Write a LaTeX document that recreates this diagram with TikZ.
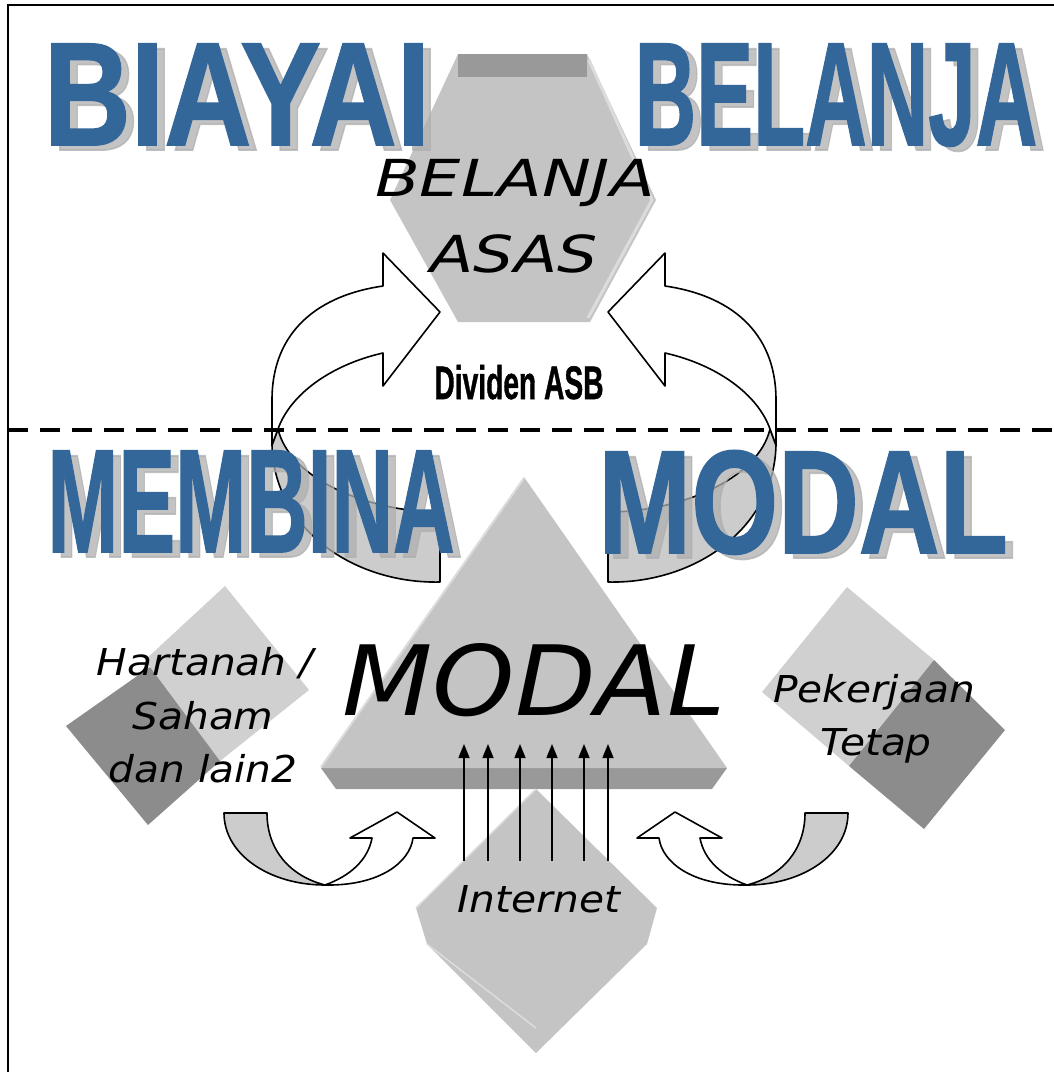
\documentclass[tikz,border=0pt]{standalone}
\usepackage{fontspec}
\setmainfont{DejaVu Sans}
\newfontfamily\heavyfont[FakeBold=1.2]{Liberation Sans}
\usetikzlibrary{arrows.meta}
\definecolor{titleblue}{RGB}{51,102,153}
\definecolor{shadowgray}{RGB}{175,175,175}
\definecolor{facegray}{RGB}{196,196,196}
\definecolor{edgegray}{RGB}{153,153,153}
\definecolor{lightface}{RGB}{208,208,208}
\definecolor{darkface}{RGB}{140,140,140}
\definecolor{backgray}{RGB}{204,204,204}
\definecolor{bevel}{RGB}{220,220,220}
\tikzset{
  titleword/.style={inner sep=0pt,anchor=base,text=titleblue,font=\heavyfont\bfseries\fontsize{147}{147}\selectfont},
  titleshadow/.style={titleword,text=shadowgray,opacity=0.75},
  itext/.style={inner sep=0pt,anchor=base,font=\itshape\fontsize{37}{37}\selectfont},
  boxtext/.style={itext,xscale=1.1},
  hextext/.style={itext,font=\itshape\fontsize{51}{51}\selectfont},
  band/.style={draw=black,line width=1.6pt,line join=round},
  feed/.style={line width=1.5pt,-{Triangle[length=14pt,width=11pt]}}
}
\newcommand{\bigword}[5]{%
  \node[titleshadow,xscale=#4] (#1shadow) at (#2+8,#3+5) {#5};
  \node[titleword,xscale=#4] (#1) at (#2,#3) {#5};}
\begin{document}
\begin{tikzpicture}[x=1pt,y=-1pt]
\useasboundingbox (0,0) rectangle (1054,1072);
\draw[line width=2pt] (8,1072) -- (8,5) -- (1054,5);

\fill[facegray] (458,54) -- (587,54) -- (656,200) -- (590,322) -- (458,322) -- (390,200) -- cycle;
\fill[edgegray] (458,54) rectangle (587,77);
\draw[bevel,line width=3pt] (589,60) -- (652,200) -- (588,318);
\bigword{biayai}{237}{145}{0.82}{BIAYAI}
\bigword{belanja}{836}{145}{0.58}{BELANJA}
\node[hextext,xscale=1.28] (hextop) at (515,196) {BELANJA};
\node[hextext,xscale=1.24] (hexbottom) at (514,272) {ASAS};

\foreach \m/\c in {1/0,-1/1048}{
  \begin{scope}[shift={(\c,0)},xscale=\m]
    \filldraw[band,fill=backgray] (278,429) .. controls (290,480) and (370,512) .. (440,512) -- (440,582) .. controls (355,584) and (274,530) .. (272,445) -- cycle;
    \filldraw[band,fill=white] (272,445) -- (272,400) .. controls (272,330) and (320,295) .. (383,286) -- (383,253) -- (440,312) -- (383,386) -- (383,353) .. controls (330,365) and (290,395) .. (278,429) -- cycle;
  \end{scope}
}
\node[inner sep=0pt,anchor=base,xscale=0.6,font=\heavyfont\bfseries\fontsize{47}{47}\selectfont] (dividen) at (519,399) {Dividen ASB};
\draw[line width=3.5pt,dash pattern=on 20pt off 12pt] (8,430) -- (1054,430);
\bigword{membina}{251}{552}{0.58}{MEMBINA}
\bigword{modaltitle}{803}{553}{0.76}{MODAL}

\fill[edgegray] (321,768) -- (727,768) -- (712,789) -- (336,789) -- cycle;
\fill[facegray] (524,477) -- (727,768) -- (321,768) -- cycle;
\draw[bevel,line width=2pt] (321,767) -- (524,478);
\node[itext,xscale=1.08,font=\itshape\fontsize{97}{97}\selectfont] (modal) at (534,715) {MODAL};

\fill[lightface] (225,586) -- (309,690) -- (220,761) -- (145,660) -- cycle;
\fill[darkface] (150,667) -- (220,761) -- (148,825) -- (66,726) -- cycle;
\node[boxtext] (harta1) at (205,675) {Hartanah /};
\node[boxtext] (harta2) at (203,729) {Saham};
\node[boxtext] (harta3) at (203,782) {dan lain2};
\fill[lightface] (847,587) -- (934,660) -- (849,766) -- (762,692) -- cycle;
\fill[darkface] (934,660) -- (1005,730) -- (924,829) -- (849,766) -- cycle;
\node[boxtext] (kerja1) at (874,702) {Pekerjaan};
\node[boxtext] (kerja2) at (876,755) {Tetap};

\fill[facegray] (536,789) -- (657,908) -- (647,944) -- (536,1053) -- (427,944) -- (416,908) -- cycle;
\draw[bevel,line width=1.5pt] (416,908) -- (536,789);
\draw[bevel,line width=1.5pt] (427,944) -- (536,1028);
\node[boxtext] (internet) at (539,912) {Internet};
\foreach \k/\x in {1/464,2/488,3/520,4/552,5/584,6/608}{
  \coordinate (net\k) at (\x,861);
  \coordinate (cap\k) at (\x,744);
  \draw[feed] (net\k) -- (cap\k);
}

\foreach \m/\c in {1/0,-1/1072}{
  \begin{scope}[shift={(\c,0)},xscale=\m]
    \filldraw[band,fill=backgray] (224,813) -- (267,813) .. controls (267,850) and (290,876) .. (325,885) .. controls (270,885) and (224,855) .. (224,813) -- cycle;
    \filldraw[band,fill=white] (325,885) .. controls (380,886) and (410,862) .. (413,838) -- (435,838) -- (397,812) -- (350,838) -- (372,838) .. controls (368,860) and (350,876) .. (325,885) -- cycle;
  \end{scope}
}
\end{tikzpicture}
\end{document}
